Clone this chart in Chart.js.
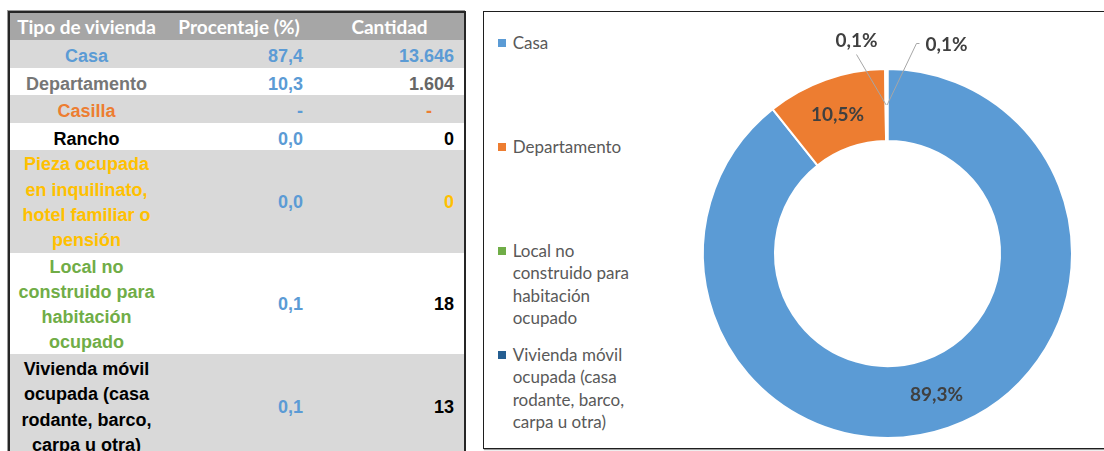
<!DOCTYPE html>
<html lang="es">
<head>
<meta charset="utf-8">
<title>Tipo de vivienda</title>
<script src="https://cdn.jsdelivr.net/npm/chart.js@4.4.1/dist/chart.umd.min.js"></script>
<style>
  body { margin: 0; width: 1104px; height: 451px; overflow: hidden; background: #fff; position: relative; }

  /* tabla de la izquierda */
  #tabla {
    position: absolute; left: 8px; top: 11px; width: 458px;
    table-layout: fixed; border-collapse: separate; border-spacing: 0;
    border: 2px solid #262626; box-shadow: -1px -1px 0 #9a9a9a;
    font: bold 18px "Liberation Sans", Arial, sans-serif;
  }
  #tabla th {
    background: #a6a6a6; color: #fff; height: 27px; padding: 0;
    font: bold 19px Lato, sans-serif; text-align: center; white-space: nowrap;
  }
  #tabla td { padding: 0 4px; text-align: center; vertical-align: middle; line-height: 25.3px; }
  #tabla td > span { position: relative; top: 1.5px; }
  #tabla tr.simple td > span { top: 3px; }
  #tabla td.num { text-align: right; padding-right: 12px; }
  #tabla td.cant { padding-right: 10px; }
  #tabla td.guion { padding-right: 32px; }
  #tabla tr.gris td { background: #d9d9d9; }

  /* recuadro del gráfico */
  #marco {
    position: absolute; left: 482.5px; top: 10.5px; width: 660px; height: 438px;
    box-sizing: border-box; border: 1.5px solid #1e1e1e; box-shadow: 1px 1px 1px #9a9a9a;
  }
  #leyenda { position: absolute; left: 0; top: 0; }
  .item { position: absolute; left: 498px; font: 17px Lato, sans-serif; color: #595959; line-height: 22.4px; }
  .item .cuadro { position: absolute; left: 0; top: 7.4px; width: 7.5px; height: 7.5px; }
  .item .texto { margin-left: 14.7px; white-space: nowrap; }
  #grafico { position: absolute; left: 690px; top: 14px; }
</style>
</head>
<body>
<table id="tabla">
  <colgroup><col style="width:153px"><col style="width:152px"><col style="width:149px"></colgroup>
  <thead><tr><th>Tipo de vivienda</th><th>Procentaje (%)</th><th>Cantidad</th></tr></thead>
  <tbody></tbody>
</table>
<div id="marco"></div>
<div id="leyenda"></div>
<canvas id="grafico" width="400" height="432"></canvas>
<script>
// ---- tabla ----
const tiposVivienda = [
  ['Casa'],
  ['Departamento'],
  ['Casilla'],
  ['Rancho'],
  ['Pieza ocupada', 'en inquilinato,', 'hotel familiar o', 'pensión'],
  ['Local no', 'construido para', 'habitación', 'ocupado'],
  ['Vivienda móvil', 'ocupada (casa', 'rodante, barco,', 'carpa u otra)']
];
const porcentajes = ['87,4', '10,3', '-', '0,0', '0,0', '0,1', '0,1'];
const cantidades = ['13.646', '1.604', '-', '0', '0', '18', '13'];

const colorTipo = ['#5b9bd5', '#767676', '#ed7d31', '#000', '#ffc000', '#70ad47', '#000'];
const colorCantidad = ['#5b9bd5', '#666', '#ed7d31', '#000', '#ffc000', '#000', '#000'];
const colorPorcentaje = '#5b9bd5';
const altoFilas = [28, 27, 28, 27, 103, 99, 104];

// ---- anillo ----
const categorias = [
  ['Casa'],
  ['Departamento'],
  ['Local no', 'construido para', 'habitación', 'ocupado'],
  ['Vivienda móvil', 'ocupada (casa', 'rodante, barco,', 'carpa u otra)']
];
const viviendas = [13646, 1604, 18, 13];
const coloresAnillo = ['#5b9bd5', '#ed7d31', '#70ad47', '#255e91'];

const cuerpo = document.querySelector('#tabla tbody');
tiposVivienda.forEach((tipo, i) => {
  const fila = document.createElement('tr');
  const clases = [];
  if (i % 2 === 0) clases.push('gris');
  if (tipo.length === 1) clases.push('simple');
  fila.className = clases.join(' ');
  fila.style.height = altoFilas[i] + 'px';
  const guion = cantidades[i] === '-' ? ' guion' : '';
  fila.innerHTML =
    `<td style="color:${colorTipo[i]}"><span>${tipo.join('<br>')}</span></td>` +
    `<td class="num" style="color:${colorPorcentaje}"><span>${porcentajes[i]}</span></td>` +
    `<td class="num cant${guion}" style="color:${colorCantidad[i]}"><span>${cantidades[i]}</span></td>`;
  cuerpo.appendChild(fila);
});

// porcentajes sobre cada porción; las muy chicas van afuera con línea guía
const etiquetas = {
  id: 'etiquetas',
  afterDatasetsDraw(chart, args, opts) {
    const ctx = chart.ctx;
    const datos = chart.data.datasets[0].data;
    const total = datos.reduce((a, b) => a + b, 0);
    let k = 0;
    ctx.save();
    ctx.font = 'bold 19px Lato, sans-serif';
    ctx.fillStyle = '#404040';
    ctx.textAlign = 'center';
    ctx.textBaseline = 'middle';
    chart.getDatasetMeta(0).data.forEach((arco, i) => {
      const pct = datos[i] / total * 100;
      const texto = pct.toFixed(1).replace('.', ',') + '%';
      const p = arco.tooltipPosition();
      if (pct >= 2) {
        ctx.fillText(texto, p.x, p.y + 1);
        return;
      }
      const o = opts.fuera[k++];
      const lx = arco.x + o.dx, ly = arco.y + o.dy;
      const w = ctx.measureText(texto).width;
      ctx.beginPath();
      if (o.ancla === 'abajo') {
        ctx.moveTo(lx, ly + 14);
      } else {
        ctx.moveTo(lx - w / 2 - 6, ly - 1);
        ctx.lineTo(lx - w / 2 - 9, ly - 1);
      }
      ctx.lineTo(p.x, p.y);
      ctx.strokeStyle = '#a6a6a6';
      ctx.lineWidth = 1;
      ctx.stroke();
      ctx.fillText(texto, lx, ly);
    });
    ctx.restore();
  }
};

const grafico = new Chart(document.getElementById('grafico'), {
  type: 'doughnut',
  data: {
    labels: categorias,
    datasets: [{
      data: viviendas,
      backgroundColor: coloresAnillo,
      borderColor: '#fff',
      borderWidth: 2,
      hoverOffset: 0
    }]
  },
  options: {
    responsive: false,
    animation: false,
    cutout: '61%',
    layout: { padding: { left: 12, right: 17, top: 54, bottom: 7 } },
    plugins: {
      legend: { display: false },
      tooltip: { enabled: false },
      etiquetas: {
        fuera: [
          { dx: -31, dy: -213, ancla: 'abajo' },
          { dx: 59, dy: -209, ancla: 'izquierda' }
        ]
      }
    }
  },
  plugins: [etiquetas]
});

// leyenda a la izquierda del anillo, con los ítems que arma Chart.js
const leyenda = document.getElementById('leyenda');
grafico.options.plugins.legend.labels.generateLabels(grafico).forEach((it, i) => {
  const d = document.createElement('div');
  d.className = 'item';
  d.style.top = (32 + i * 104) + 'px';
  const lineas = Array.isArray(it.text) ? it.text : [it.text];
  d.innerHTML = `<span class="cuadro" style="background:${it.fillStyle}"></span>` +
    `<div class="texto">${lineas.join('<br>')}</div>`;
  leyenda.appendChild(d);
});
</script>
</body>
</html>
